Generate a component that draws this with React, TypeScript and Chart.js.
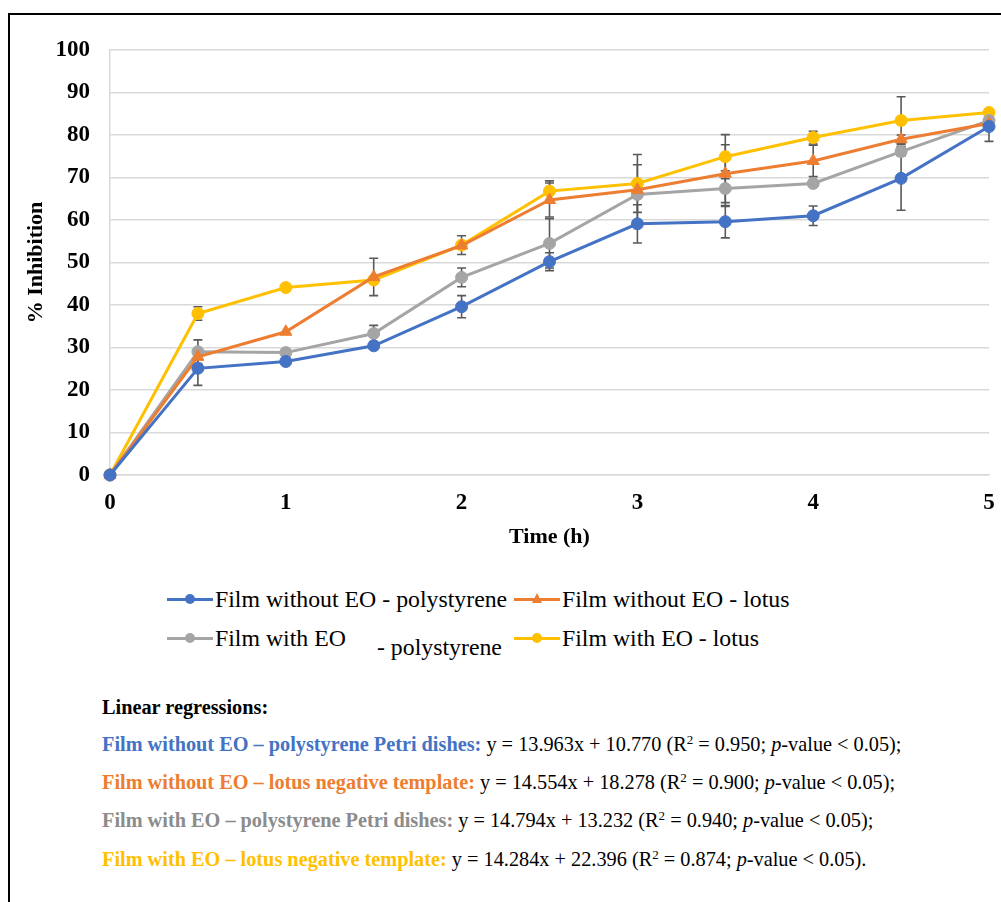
import React, { useEffect, useRef } from "react";
import { Chart, registerables } from "chart.js";

Chart.register(...registerables);

const FONT = "'Liberation Serif', 'Times New Roman', serif";

// Time (h)
const times = [0, 0.5, 1, 1.5, 2, 2.5, 3, 3.5, 4, 4.5, 5];

// % Inhibition
const withoutEoPolystyrene = [0, 25.1, 26.7, 30.4, 39.6, 50.2, 59.1, 59.6, 61.0, 69.8, 82.0];
const withoutEoLotus = [0, 27.8, 33.7, 46.6, 54.0, 64.7, 67.1, 70.9, 73.9, 79.0, 82.7];
const withEoPolystyrene = [0, 29.0, 28.8, 33.3, 46.5, 54.5, 66.0, 67.4, 68.6, 76.1, 83.4];
const withEoLotus = [0, 38.0, 44.1, 45.9, 54.1, 66.8, 68.6, 74.9, 79.4, 83.4, 85.3];

// Error bars (± values)
const errWithoutEoPolystyrene = [0, 4.0, 0, 0, 2.6, 2.1, 4.5, 3.8, 2.3, 7.5, 3.5];
const errWithoutEoLotus = [0, 0.5, 0, 4.4, 0.5, 4.0, 1.5, 6.8, 3.7, 1.0, 0.5];
const errWithEoPolystyrene = [0, 2.8, 0, 1.9, 2.2, 5.8, 7.0, 4.2, 0.5, 1.0, 0.5];
const errWithEoLotus = [0, 1.6, 0, 0, 2.2, 2.4, 6.8, 5.2, 1.5, 5.6, 0.5];

const seriesLabels = [
  "Film without EO - polystyrene",
  "Film without EO - lotus",
  "Film with EO - polystyrene",
  "Film with EO - lotus",
];
const seriesColors = ["#4472C4", "#ED7D31", "#A5A5A5", "#FFC000"];
const seriesPointStyles = ["circle", "triangle", "circle", "circle"];
const seriesValues = [withoutEoPolystyrene, withoutEoLotus, withEoPolystyrene, withEoLotus];
const seriesErrors = [errWithoutEoPolystyrene, errWithoutEoLotus, errWithEoPolystyrene, errWithEoLotus];

const yMin = 0;
const yMax = 100;
const yStep = 10;
const xMin = 0;
const xMax = 5;
const xStep = 1;

const regressionLabels = [
  "Film without EO \u2013 polystyrene Petri dishes:",
  "Film without EO \u2013 lotus negative template:",
  "Film with EO \u2013 polystyrene Petri dishes:",
  "Film with EO \u2013 lotus negative template:",
];
const regressionEquations = [
  "y = 13.963x + 10.770",
  "y = 14.554x + 18.278",
  "y = 14.794x + 13.232",
  "y = 14.284x + 22.396",
];
const regressionR2 = ["0.950", "0.900", "0.940", "0.874"];
const regressionEnds = [");", ");", ");", ")."];
const regressionColors = ["#4472C4", "#ED7D31", "#8C8C8C", "#FFC000"];

const errorBarPlugin = {
  id: "errorBars",
  beforeDatasetsDraw(chart: any) {
    const ctx = chart.ctx;
    const yScale = chart.scales.y;
    ctx.save();
    ctx.strokeStyle = "#595959";
    ctx.lineWidth = 1.6;
    seriesErrors.forEach((errs, i) => {
      const meta = chart.getDatasetMeta(i);
      meta.data.forEach((pt: any, j: number) => {
        const e = errs[j];
        if (!e) return;
        const v = seriesValues[i][j];
        const x = pt.x;
        const y1 = yScale.getPixelForValue(v + e);
        const y2 = yScale.getPixelForValue(v - e);
        ctx.beginPath();
        ctx.moveTo(x, y1);
        ctx.lineTo(x, y2);
        ctx.moveTo(x - 4.5, y1);
        ctx.lineTo(x + 4.5, y1);
        ctx.moveTo(x - 4.5, y2);
        ctx.lineTo(x + 4.5, y2);
        ctx.stroke();
      });
    });
    ctx.restore();
  },
};

function ChartCanvas() {
  const ref = useRef<HTMLCanvasElement | null>(null);
  useEffect(() => {
    if (!ref.current) return;
    const chart = new Chart(ref.current, {
      type: "line",
      data: {
        datasets: seriesValues.map((vals, i) => ({
          label: seriesLabels[i],
          data: vals.map((v, j) => ({ x: times[j], y: v })),
          borderColor: seriesColors[i],
          backgroundColor: seriesColors[i],
          pointBackgroundColor: seriesColors[i],
          pointBorderColor: seriesColors[i],
          pointStyle: seriesPointStyles[i] as any,
          pointRadius: seriesPointStyles[i] === "triangle" ? 7 : 6,
          pointBorderWidth: 1,
          borderWidth: 3,
          tension: 0,
          fill: false,
          clip: false as any,
        })),
      },
      options: {
        animation: false,
        responsive: false,
        maintainAspectRatio: false,
        layout: { padding: { left: 0, right: 12, top: 50, bottom: 0 } },
        plugins: {
          legend: { display: false },
          tooltip: { enabled: false },
        },
        scales: {
          x: {
            type: "linear",
            min: xMin,
            max: xMax,
            afterFit: (s: any) => {
              s.height = 85;
              s.paddingRight = 0;
              s.paddingLeft = 0;
            },
            ticks: {
              stepSize: xStep,
              color: "#000",
              padding: 14,
              font: { family: FONT, size: 23, weight: "bold" },
            },
            grid: { display: false, drawTicks: false },
            border: { display: true, color: "#D9D9D9", width: 1.5 },
            title: {
              display: true,
              text: "Time (h)",
              color: "#000",
              font: { family: FONT, size: 22, weight: "bold" },
              padding: { top: 0, bottom: 9 },
            },
          },
          y: {
            min: yMin,
            max: yMax,
            afterFit: (s: any) => {
              s.width = 110;
            },
            ticks: {
              stepSize: yStep,
              color: "#000",
              padding: 20,
              font: { family: FONT, size: 23, weight: "bold" },
            },
            grid: { color: "#D9D9D9", lineWidth: 1.5, drawTicks: false },
            border: { display: true, color: "#D9D9D9", width: 1.5 },
            title: {
              display: true,
              text: "% Inhibition",
              color: "#000",
              font: { family: FONT, size: 22, weight: "bold" },
              padding: { top: 23, bottom: 0 },
            },
          },
        },
      },
      plugins: [errorBarPlugin],
    });
    return () => chart.destroy();
  }, []);
  return (
    <canvas
      ref={ref}
      width={1001}
      height={560}
      style={{ position: "absolute", left: 0, top: 0, width: 1001, height: 560 }}
    />
  );
}

function LegendMarker({ color, style }: { color: string; style: string }) {
  return (
    <span style={{ position: "relative", display: "inline-block", width: 46, height: 12, verticalAlign: "middle" }}>
      <span style={{ position: "absolute", left: 0, top: 5, width: 46, height: 3, background: color }} />
      {style === "triangle" ? (
        <span
          style={{
            position: "absolute",
            left: 18,
            top: 0,
            width: 0,
            height: 0,
            borderLeft: "5.5px solid transparent",
            borderRight: "5.5px solid transparent",
            borderBottom: "10px solid " + color,
          }}
        />
      ) : (
        <span
          style={{ position: "absolute", left: 18, top: 1.5, width: 10, height: 10, borderRadius: "50%", background: color }}
        />
      )}
    </span>
  );
}

export default function App() {
  const legendTextStyle: React.CSSProperties = {
    position: "absolute",
    fontFamily: FONT,
    fontSize: 23.8,
    color: "#000",
    whiteSpace: "nowrap",
    lineHeight: "26px",
  };
  const legendItems = [
    { left: 167, top: 583, idx: 0, text: seriesLabels[0] },
    { left: 514, top: 583, idx: 1, text: seriesLabels[1] },
    { left: 167, top: 622, idx: 2, text: "Film with EO" },
    { left: 514, top: 622, idx: 3, text: seriesLabels[3] },
  ];
  const regTop = [732, 770, 808, 847];
  const regFont = 20.3;
  return (
    <div
      style={{
        position: "absolute",
        left: 0,
        top: 0,
        width: 1001,
        height: 902,
        overflow: "hidden",
        background: "#fff",
      }}
    >
      <div
        style={{
          position: "absolute",
          left: 8,
          top: 13,
          width: 1100,
          height: 1000,
          borderLeft: "2px solid #000",
          borderTop: "2px solid #000",
        }}
      />
      <ChartCanvas />
      {legendItems.map((it) => (
        <div key={it.idx} style={{ ...legendTextStyle, left: it.left, top: it.top }}>
          <LegendMarker color={seriesColors[it.idx]} style={seriesPointStyles[it.idx]} />
          <span style={{ marginLeft: 2, verticalAlign: "middle" }}>{it.text}</span>
        </div>
      ))}
      <div style={{ ...legendTextStyle, left: 377, top: 634 }}>- polystyrene</div>
      <div
        style={{
          position: "absolute",
          left: 102,
          top: 695,
          fontFamily: FONT,
          fontSize: regFont,
          fontWeight: "bold",
          color: "#000",
          whiteSpace: "nowrap",
          lineHeight: "24px",
        }}
      >
        Linear regressions:
      </div>
      {regressionLabels.map((lab, i) => (
        <div
          key={i}
          style={{
            position: "absolute",
            left: 102,
            top: regTop[i],
            fontFamily: FONT,
            fontSize: regFont,
            color: "#000",
            whiteSpace: "nowrap",
            lineHeight: "24px",
          }}
        >
          <span style={{ color: regressionColors[i], fontWeight: "bold" }}>{lab}</span>{" "}
          {regressionEquations[i]} (R<sup style={{ fontSize: 13, verticalAlign: "7px", lineHeight: 0 }}>2</sup> ={" "}
          {regressionR2[i]}; <i>p</i>-value &lt; 0.05{regressionEnds[i]}
        </div>
      ))}
    </div>
  );
}
